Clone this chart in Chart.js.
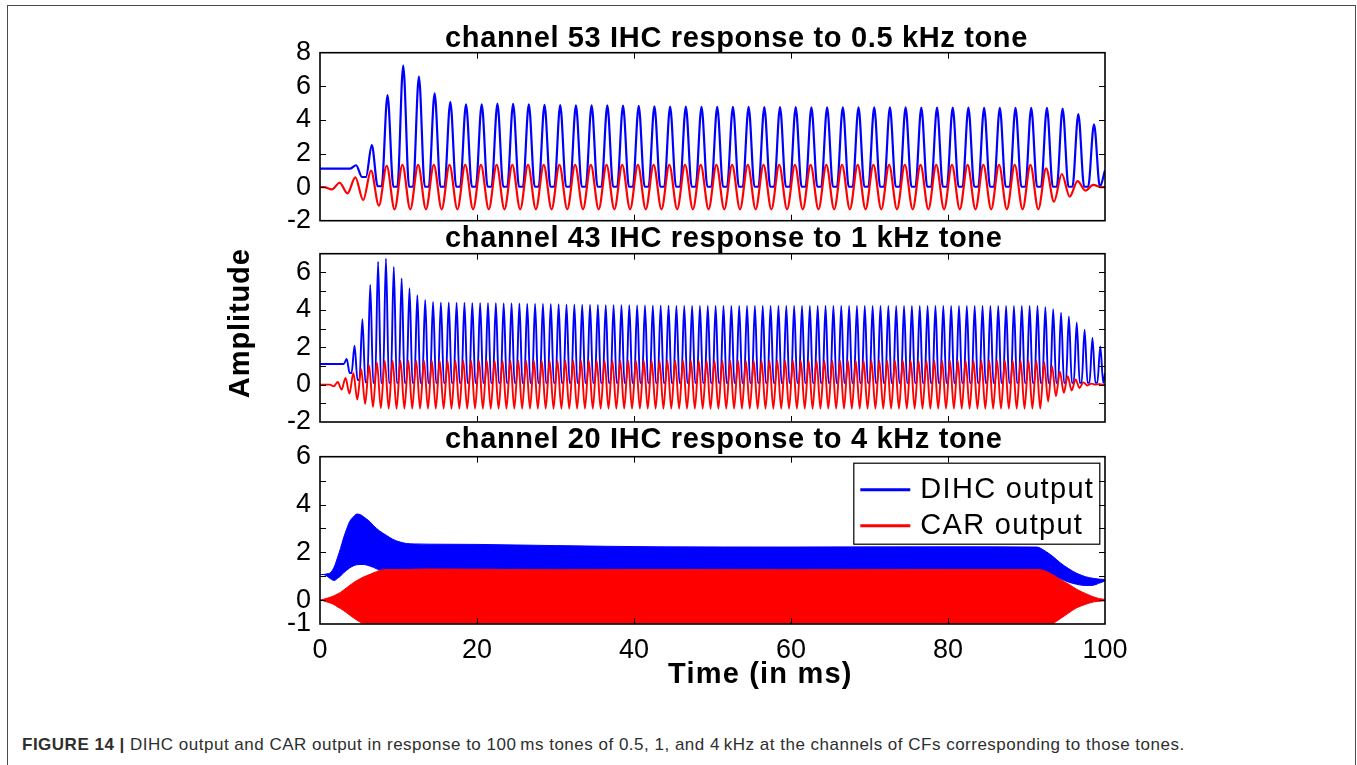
<!DOCTYPE html>
<html>
<head>
<meta charset="utf-8">
<script src="https://cdn.jsdelivr.net/npm/chart.js@4.4.0/dist/chart.umd.min.js"></script>
<style>
html,body{margin:0;padding:0;background:#fff;}
body{width:1357px;height:765px;position:relative;overflow:hidden;font-family:"Liberation Sans",Arial,sans-serif;}
#frame{position:absolute;left:7px;top:5px;width:1349px;height:800px;border:1.5px solid #4a4a4a;border-bottom:none;box-sizing:border-box;}
canvas{position:absolute;left:0;}
#c1{top:0px;}
#c2{top:215px;}
#c3{top:425px;}
#caption{position:absolute;left:22px;top:736px;font-size:17px;line-height:17px;letter-spacing:0.5px;color:#2e2e2e;white-space:nowrap;}
#caption b{font-weight:bold;}
</style>
</head>
<body>
<div id="frame"></div>
<canvas id="c1" width="1357" height="245"></canvas>
<canvas id="c2" width="1357" height="235"></canvas>
<canvas id="c3" width="1357" height="290"></canvas>
<div id="caption"><b>FIGURE 14 |</b> DIHC output and CAR output in response to 100&thinsp;ms tones of 0.5, 1, and 4&thinsp;kHz at the channels of CFs corresponding to those tones.</div>
<script>
// ---------------- labels ----------------
const seriesLabels = ['DIHC output', 'CAR output'];
const seriesColors = ['#0000ff', '#ff0000'];
const panelTitles = [
  'channel 53 IHC response to 0.5 kHz tone',
  'channel 43 IHC response to 1 kHz tone',
  'channel 20 IHC response to 4 kHz tone'
];
const xAxisLabel = 'Time (in ms)';
const yAxisLabel = 'Amplitude';

// ---------------- tick values / labels ----------------
const xTicks = [0, 20, 40, 60, 80, 100];
const xTickLabels = ['0', '20', '40', '60', '80', '100'];
const p1YTicks = [-2, 0, 2, 4, 6, 8];
const p1YTickLabels = ['-2', '0', '2', '4', '6', '8'];
const p2YTicks = [-2, -1, 0, 1, 2, 3, 4, 5, 6, 7];
const p2YTickLabels = ['-2', '', '0', '', '2', '', '4', '', '6', ''];
const p3YTicks = [-1, 0, 1, 2, 3, 4, 5, 6];
const p3YTickLabels = ['-1', '0', '', '2', '', '4', '', '6'];

// ---------------- panel 1: 0.5 kHz tone (period 2 ms) ----------------
const p1Period = 2;
const p1BluePeakTime0 = 0.6;   // time of first DIHC cycle peak (ms)
const p1RedPeakTime0 = 0.5;    // time of first CAR cycle peak (ms)
const p1BlueStart = 1.1, p1BlueEnd = 1.0, p1RedStart = 0, p1RedEnd = 0;
const p1BluePeaks = [
  1.1, 1.1, 1.3, 2.5, 5.48, 7.23, 6.57, 5.58, 5.08, 4.93,
  4.93, 4.97, 4.95, 4.93, 4.89, 4.88, 4.87, 4.87, 4.86, 4.85,
  4.83, 4.80, 4.79, 4.79, 4.78, 4.78, 4.77, 4.77, 4.76, 4.76,
  4.76, 4.75, 4.75, 4.75, 4.74, 4.74, 4.74, 4.74, 4.73, 4.73,
  4.73, 4.73, 4.72, 4.72, 4.72, 4.72, 4.72, 4.67, 4.35, 3.74
];
const p1BlueTroughs = [
  1.1, 1.1, 0.6, 0.05, 0.02, 0.02, 0.02, 0.02, 0.02, 0.02,
  0.02, 0.02, 0.02, 0.02, 0.02, 0.02, 0.02, 0.02, 0.02, 0.02,
  0.02, 0.02, 0.02, 0.02, 0.02, 0.02, 0.02, 0.02, 0.02, 0.02,
  0.02, 0.02, 0.02, 0.02, 0.02, 0.02, 0.02, 0.02, 0.02, 0.02,
  0.02, 0.02, 0.02, 0.02, 0.02, 0.02, 0.02, 0.02, 0.02, 0.02
];
const p1RedPeaks = [
  0.0, 0.26, 0.58, 0.98, 1.27, 1.32, 1.32, 1.32, 1.32, 1.32,
  1.32, 1.32, 1.32, 1.32, 1.32, 1.32, 1.32, 1.32, 1.32, 1.32,
  1.32, 1.32, 1.32, 1.32, 1.32, 1.32, 1.32, 1.32, 1.32, 1.32,
  1.32, 1.32, 1.32, 1.32, 1.32, 1.32, 1.32, 1.32, 1.32, 1.32,
  1.32, 1.32, 1.32, 1.32, 1.32, 1.32, 1.12, 0.78, 0.36, 0.13
];
const p1RedTroughs = [
  -0.14, -0.37, -0.77, -1.1, -1.32, -1.32, -1.32, -1.32, -1.32, -1.32,
  -1.32, -1.32, -1.32, -1.32, -1.32, -1.32, -1.32, -1.32, -1.32, -1.32,
  -1.32, -1.32, -1.32, -1.32, -1.32, -1.32, -1.32, -1.32, -1.32, -1.32,
  -1.32, -1.32, -1.32, -1.32, -1.32, -1.32, -1.32, -1.32, -1.32, -1.32,
  -1.32, -1.32, -1.32, -1.32, -1.32, -1.32, -0.87, -0.57, -0.21, 0.0
];

// ---------------- panel 2: 1 kHz tone (period 1 ms) ----------------
const p2Period = 1;
const p2BluePeakTime0 = 0.4;
const p2RedPeakTime0 = 0.25;
const p2BlueStart = 1.1, p2BlueEnd = 0.62, p2RedStart = 0, p2RedEnd = 0;
const p2BluePeaks = [
  1.1, 1.1, 1.1, 1.37, 2.08, 3.5, 5.33, 6.57, 6.75, 6.3,
  5.68, 5.15, 4.78, 4.53, 4.42, 4.39, 4.39, 4.38, 4.38, 4.37,
  4.37, 4.36, 4.36, 4.35, 4.35, 4.34, 4.33, 4.32, 4.32, 4.31,
  4.30, 4.29, 4.28, 4.27, 4.27, 4.26, 4.25, 4.25, 4.24, 4.24,
  4.23, 4.23, 4.22, 4.22, 4.22, 4.21, 4.21, 4.21, 4.21, 4.21,
  4.21, 4.21, 4.21, 4.21, 4.21, 4.21, 4.21, 4.21, 4.21, 4.21,
  4.21, 4.21, 4.21, 4.21, 4.21, 4.21, 4.21, 4.21, 4.21, 4.21,
  4.20, 4.20, 4.20, 4.20, 4.20, 4.20, 4.20, 4.20, 4.20, 4.20,
  4.20, 4.20, 4.20, 4.20, 4.20, 4.20, 4.20, 4.20, 4.20, 4.20,
  4.20, 4.20, 4.14, 4.03, 3.85, 3.64, 3.32, 2.93, 2.49, 2.04
];
const p2BlueTroughs = [
  1.1, 1.1, 1.1, 0.62, 0.25, 0.12, 0.09, 0.09, 0.09, 0.09,
  0.09, 0.09, 0.09, 0.09, 0.09, 0.09, 0.09, 0.09, 0.09, 0.09,
  0.09, 0.09, 0.09, 0.09, 0.09, 0.09, 0.09, 0.09, 0.09, 0.09,
  0.09, 0.09, 0.09, 0.09, 0.09, 0.09, 0.09, 0.09, 0.09, 0.09,
  0.09, 0.09, 0.09, 0.09, 0.09, 0.09, 0.09, 0.09, 0.09, 0.09,
  0.09, 0.09, 0.09, 0.09, 0.09, 0.09, 0.09, 0.09, 0.09, 0.09,
  0.09, 0.09, 0.09, 0.09, 0.09, 0.09, 0.09, 0.09, 0.09, 0.09,
  0.09, 0.09, 0.09, 0.09, 0.09, 0.09, 0.09, 0.09, 0.09, 0.09,
  0.09, 0.09, 0.09, 0.09, 0.09, 0.09, 0.09, 0.09, 0.09, 0.09,
  0.09, 0.09, 0.09, 0.09, 0.09, 0.09, 0.09, 0.09, 0.09, 0.09
];
const p2RedPeaks = [
  0.0, 0.0, 0.14, 0.36, 0.62, 0.83, 1.03, 1.19, 1.28, 1.28,
  1.28, 1.28, 1.28, 1.28, 1.28, 1.28, 1.28, 1.28, 1.28, 1.28,
  1.28, 1.28, 1.28, 1.28, 1.28, 1.28, 1.28, 1.28, 1.28, 1.28,
  1.28, 1.28, 1.28, 1.28, 1.28, 1.28, 1.28, 1.28, 1.28, 1.28,
  1.28, 1.28, 1.28, 1.28, 1.28, 1.28, 1.28, 1.28, 1.28, 1.28,
  1.28, 1.28, 1.28, 1.28, 1.28, 1.28, 1.28, 1.28, 1.28, 1.28,
  1.28, 1.28, 1.28, 1.28, 1.28, 1.28, 1.28, 1.28, 1.28, 1.28,
  1.28, 1.28, 1.28, 1.28, 1.28, 1.28, 1.28, 1.28, 1.28, 1.28,
  1.28, 1.28, 1.28, 1.28, 1.28, 1.28, 1.28, 1.28, 1.28, 1.28,
  1.28, 1.28, 1.2, 0.98, 0.7, 0.45, 0.27, 0.12, 0.05, 0.02
];
const p2RedTroughs = [
  0.0, -0.09, -0.27, -0.48, -0.8, -1.03, -1.19, -1.26, -1.28, -1.28,
  -1.28, -1.28, -1.28, -1.28, -1.28, -1.28, -1.28, -1.28, -1.28, -1.28,
  -1.28, -1.28, -1.28, -1.28, -1.28, -1.28, -1.28, -1.28, -1.28, -1.28,
  -1.28, -1.28, -1.28, -1.28, -1.28, -1.28, -1.28, -1.28, -1.28, -1.28,
  -1.28, -1.28, -1.28, -1.28, -1.28, -1.28, -1.28, -1.28, -1.28, -1.28,
  -1.28, -1.28, -1.28, -1.28, -1.28, -1.28, -1.28, -1.28, -1.28, -1.28,
  -1.28, -1.28, -1.28, -1.28, -1.28, -1.28, -1.28, -1.28, -1.28, -1.28,
  -1.28, -1.28, -1.28, -1.28, -1.28, -1.28, -1.28, -1.28, -1.28, -1.28,
  -1.28, -1.28, -1.28, -1.28, -1.28, -1.28, -1.28, -1.28, -1.28, -1.28,
  -1.28, -1.28, -0.9, -0.62, -0.44, -0.32, -0.18, -0.05, 0.0, 0.0
];

// ---------------- panel 3: 4 kHz tone, envelopes of the dense oscillation ----------------
const p3Times = [
  0, 0.4, 0.9, 1.3, 1.8, 2.3, 2.6, 3.0, 3.4, 3.8,
  4.3, 4.7, 5.1, 5.5, 5.9, 6.4, 6.8, 7.2, 7.6, 8.5,
  9.3, 10.2, 11.0, 12.0, 14, 20, 30, 43, 60, 80,
  91.3, 92.2, 93.3, 94.3, 95.4, 96.4, 97.5, 98.5, 99.2, 100
];
const p3BlueUpper = [
  1.07, 1.07, 1.10, 1.14, 1.38, 1.85, 2.15, 2.6, 2.98, 3.3,
  3.5, 3.6, 3.58, 3.5, 3.4, 3.27, 3.12, 3.0, 2.89, 2.7,
  2.54, 2.43, 2.37, 2.35, 2.34, 2.33, 2.28, 2.23, 2.22, 2.23,
  2.22, 2.09, 1.84, 1.56, 1.31, 1.12, 0.98, 0.91, 0.88, 0.86
];
const p3BlueLower = [
  1.07, 1.07, 1.0, 0.9, 0.82, 0.93, 1.0, 1.14, 1.25, 1.35,
  1.44, 1.48, 1.49, 1.49, 1.47, 1.42, 1.37, 1.31, 1.26, 1.2,
  1.2, 1.2, 1.2, 1.2, 1.2, 1.2, 1.2, 1.2, 1.2, 1.2,
  1.2, 1.18, 1.05, 0.89, 0.75, 0.66, 0.61, 0.62, 0.7, 0.8
];
const p3RedUpper = [
  0, 0.03, 0.08, 0.12, 0.18, 0.27, 0.32, 0.42, 0.52, 0.62,
  0.74, 0.82, 0.89, 0.96, 1.02, 1.08, 1.14, 1.19, 1.24, 1.28,
  1.28, 1.28, 1.28, 1.29, 1.3, 1.29, 1.27, 1.28, 1.27, 1.28,
  1.28, 1.24, 1.07, 0.86, 0.66, 0.45, 0.28, 0.14, 0.07, 0.03
];
const p3RedLower = [
  0, -0.03, -0.08, -0.12, -0.19, -0.3, -0.35, -0.44, -0.53, -0.63,
  -0.75, -0.84, -0.92, -1.0, -1.07, -1.12, -1.16, -1.2, -1.24, -1.28,
  -1.28, -1.28, -1.28, -1.28, -1.28, -1.28, -1.28, -1.28, -1.28, -1.28,
  -1.28, -1.22, -1.0, -0.78, -0.53, -0.32, -0.18, -0.08, -0.05, -0.03
];

const TEND = 100;

// ---------------- table builders ----------------
function pushSorted(pts, x, y) {
  if (x < 0 || x > TEND) return;
  if (pts.length && x <= pts[pts.length - 1].x) return;
  pts.push({ x, y });
}
// DIHC: a narrow peak per cycle, flat level between peaks
function spikeTable(t0, period, half, peaks, troughs, startVal, endVal) {
  const pts = [{ x: 0, y: startVal }];
  let prev = startVal;
  peaks.forEach((p, k) => {
    const tp = t0 + k * period;
    pushSorted(pts, tp - half, prev);
    pushSorted(pts, tp, p);
    pushSorted(pts, tp + half, troughs[k]);
    prev = troughs[k];
  });
  pushSorted(pts, TEND, endVal);
  return pts;
}
// CAR: alternating peak / trough each half cycle
function waveTable(t0, period, peaks, troughs, startVal, endVal) {
  const pts = [{ x: 0, y: startVal }];
  peaks.forEach((p, k) => {
    const tp = t0 + k * period;
    pushSorted(pts, tp, p);
    pushSorted(pts, tp + period / 2, troughs[k]);
  });
  pushSorted(pts, TEND, endVal);
  return pts;
}
function zipTable(xs, ys) { return xs.map((x, i) => ({ x, y: ys[i] })); }

// ---------------- decoration plugin (frame, inward ticks, texts, legend) ----------------
function makeDecor(cfg) {
  return {
    id: 'decor',
    afterDatasetsDraw(chart) {
      const ctx = chart.ctx, a = chart.chartArea;
      const xs = chart.scales.x, ys = chart.scales.y;
      ctx.save();
      ctx.strokeStyle = '#000';
      ctx.lineWidth = 1;
      const seg = (x1, y1, x2, y2) => { ctx.beginPath(); ctx.moveTo(x1, y1); ctx.lineTo(x2, y2); ctx.stroke(); };
      xs.ticks.forEach(t => {
        const px = Math.round(xs.getPixelForValue(t.value)) + 0.5;
        if (px <= a.left + 2 || px >= a.right - 2) return;
        seg(px, a.top, px, a.top + 6);
        seg(px, a.bottom, px, a.bottom - 6);
      });
      ys.ticks.forEach(t => {
        const py = Math.round(ys.getPixelForValue(t.value)) + 0.5;
        if (py <= a.top + 2 || py >= a.bottom - 2) return;
        seg(a.left, py, a.left + 6, py);
        seg(a.right, py, a.right - 6, py);
      });
      ctx.lineWidth = 1.6;
      ctx.strokeRect(a.left, a.top, a.right - a.left, a.bottom - a.top);

      (cfg.texts || []).forEach(tx => {
        ctx.save();
        ctx.font = tx.font;
        if ('letterSpacing' in ctx) ctx.letterSpacing = tx.ls || '0px';
        ctx.fillStyle = '#000';
        ctx.textAlign = tx.align || 'left';
        ctx.textBaseline = 'alphabetic';
        ctx.translate(a.left + tx.dx, a.top + tx.dy);
        if (tx.rot) ctx.rotate(tx.rot);
        ctx.fillText(tx.text, 0, 0);
        ctx.restore();
      });

      if (cfg.legend) {
        const L = cfg.legend;
        const bx = a.right - L.fromRight, by = a.top + L.dy;
        ctx.fillStyle = '#fff';
        ctx.fillRect(bx, by, L.w, L.h);
        ctx.lineWidth = 1.2;
        ctx.strokeStyle = '#000';
        ctx.strokeRect(bx + 0.5, by + 0.5, L.w, L.h);
        L.items.forEach((it, i) => {
          const base = by + L.rows[i];
          ctx.strokeStyle = it.color;
          ctx.lineWidth = 3;
          seg(bx + 7, base - 8, bx + 57, base - 8);
          ctx.save();
          ctx.font = L.font;
          if ('letterSpacing' in ctx) ctx.letterSpacing = L.ls;
          ctx.fillStyle = '#000';
          ctx.textAlign = 'left';
          ctx.textBaseline = 'alphabetic';
          ctx.fillText(it.text, bx + 67, base);
          ctx.restore();
        });
      }
      ctx.restore();
    }
  };
}

Chart.defaults.font.family = "'Liberation Sans', Arial, Helvetica, sans-serif";
Chart.defaults.color = '#000';

const TITLE_FONT = "bold 29px 'Liberation Sans', Arial, sans-serif";
const TICK_FONT = { size: 27 };

function makeChart(id, datasets, yTicks, yLabels, showX, pad, decorCfg) {
  return new Chart(document.getElementById(id), {
    type: 'line',
    data: { datasets },
    options: {
      responsive: false,
      animation: false,
      devicePixelRatio: 1,
      events: [],
      layout: { padding: pad },
      elements: { point: { radius: 0 }, line: { cubicInterpolationMode: 'monotone', fill: false } },
      plugins: { legend: { display: false }, tooltip: { enabled: false }, title: { display: false } },
      scales: {
        x: {
          type: 'linear', min: 0, max: 100,
          grid: { display: false }, border: { display: false },
          afterBuildTicks: s => { s.ticks = xTicks.map(v => ({ value: v })); },
          afterFit: s => { s.height = showX ? 60 : 0; },
          ticks: {
            display: showX, autoSkip: false, maxRotation: 0, minRotation: 0, padding: 2,
            color: '#000', font: TICK_FONT,
            callback: v => xTickLabels[xTicks.indexOf(v)]
          }
        },
        y: {
          type: 'linear', min: yTicks[0], max: yTicks[yTicks.length - 1],
          grid: { display: false }, border: { display: false },
          afterBuildTicks: s => { s.ticks = yTicks.map(v => ({ value: v })); },
          afterFit: s => { s.width = 320; },
          ticks: {
            autoSkip: false, padding: 1, color: '#000', font: TICK_FONT,
            callback: v => yLabels[yTicks.indexOf(v)]
          }
        }
      }
    },
    plugins: [makeDecor(decorCfg)]
  });
}

function lineDs(label, color, data, order, width) {
  return { label, data, borderColor: color, backgroundColor: color, borderWidth: width, order, clip: 0, fill: false };
}

// Panel 1
makeChart('c1', [
  lineDs(seriesLabels[0], seriesColors[0], spikeTable(p1BluePeakTime0, p1Period, 0.75, p1BluePeaks, p1BlueTroughs, p1BlueStart, p1BlueEnd), 2, 2.2),
  lineDs(seriesLabels[1], seriesColors[1], waveTable(p1RedPeakTime0, p1Period, p1RedPeaks, p1RedTroughs, p1RedStart, p1RedEnd), 1, 2.2)
], p1YTicks, p1YTickLabels, false, { top: 52.7, bottom: 24.3, left: 0, right: 252 }, {
  texts: [{ text: panelTitles[0], font: TITLE_FONT, ls: '0.65px', dx: 125, dy: -6 }]
});

// Panel 2
makeChart('c2', [
  lineDs(seriesLabels[0], seriesColors[0], spikeTable(p2BluePeakTime0, p2Period, 0.38, p2BluePeaks, p2BlueTroughs, p2BlueStart, p2BlueEnd), 2, 1.9),
  lineDs(seriesLabels[1], seriesColors[1], waveTable(p2RedPeakTime0, p2Period, p2RedPeaks, p2RedTroughs, p2RedStart, p2RedEnd), 1, 1.9)
], p2YTicks, p2YTickLabels, false, { top: 38.7, bottom: 28, left: 0, right: 252 }, {
  texts: [
    { text: panelTitles[1], font: TITLE_FONT, ls: '0.65px', dx: 125, dy: -7 },
    { text: yAxisLabel, font: TITLE_FONT, ls: '0.9px', dx: -71, dy: 69.5, rot: -Math.PI / 2, align: 'center' }
  ]
});

// Panel 3
makeChart('c3', [
  Object.assign(lineDs(seriesLabels[0], seriesColors[0], zipTable(p3Times, p3BlueUpper), 4, 1), { fill: 1 }),
  lineDs(seriesLabels[0] + ' (lower envelope)', seriesColors[0], zipTable(p3Times, p3BlueLower), 3, 1),
  Object.assign(lineDs(seriesLabels[1], seriesColors[1], zipTable(p3Times, p3RedUpper), 2, 1), { fill: 3 }),
  lineDs(seriesLabels[1] + ' (lower envelope)', seriesColors[1], zipTable(p3Times, p3RedLower), 1, 1)
], p3YTicks, p3YTickLabels, true, { top: 31.7, bottom: 31, left: 0, right: 252 }, {
  texts: [
    { text: panelTitles[2], font: TITLE_FONT, ls: '0.65px', dx: 125, dy: -9 },
    { text: xAxisLabel, font: TITLE_FONT, ls: '1.2px', dx: 348, dy: 226.6 }
  ],
  legend: {
    fromRight: 251.7, dy: 6, w: 246, h: 81,
    rows: [35, 71],
    font: "29px 'Liberation Sans', Arial, sans-serif", ls: '1.3px',
    items: [{ text: seriesLabels[0], color: seriesColors[0] }, { text: seriesLabels[1], color: seriesColors[1] }]
  }
});
</script>
</body>
</html>
